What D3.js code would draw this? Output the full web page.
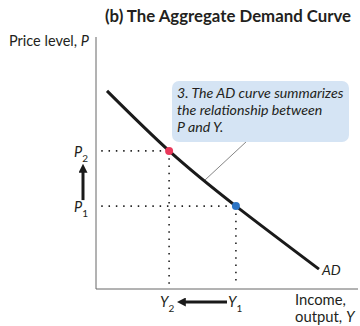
<!DOCTYPE html>
<html>
<head>
<meta charset="utf-8">
<script src="https://cdn.jsdelivr.net/npm/d3@7"></script>
<style>
  body { margin: 0; background: #fff; }
  text { font-family: Lato, "Open Sans", sans-serif; fill: #231f20; }
</style>
</head>
<body>
<div id="chart"></div>
<script>
// AD curve points (output, price level) in arbitrary units 0..100
const adOutput = [4.2, 27.9, 53.4, 85.1];
const adPrice = [78.6, 54.8, 32.9, 7.9];
// the two highlighted points
const pointNames = ["P2", "P1"];
const pointY = [27.9, 53.4];
const pointP = [54.8, 32.9];
const pointColors = ["#e8385a", "#2d74c4"];
const noteLines = ["3. The AD curve summarizes", "the relationship between", "P and Y."];

const width = 360, height = 326;
const svg = d3.select("#chart").append("svg")
  .attr("width", width).attr("height", height);

const x = d3.scaleLinear().domain([0, 100]).range([96, 358]);
const y = d3.scaleLinear().domain([0, 100]).range([289, 37]);

svg.append("defs").append("marker")
  .attr("id", "head")
  .attr("viewBox", "0 0 10 10")
  .attr("refX", 2).attr("refY", 5)
  .attr("markerWidth", 3).attr("markerHeight", 3)
  .attr("markerUnits", "strokeWidth")
  .attr("orient", "auto")
  .append("path").attr("d", "M0,0L10,5L0,10Z").attr("fill", "#1a1a1a");

// title
svg.append("text")
  .attr("x", 228).attr("y", 22)
  .attr("text-anchor", "middle")
  .attr("font-weight", "bold")
  .attr("font-size", 16.8)
  .text("(b) The Aggregate Demand Curve");

// axes (plain lines, no ticks)
svg.append("line")
  .attr("x1", x(0)).attr("x2", x(0))
  .attr("y1", y(100)).attr("y2", y(0))
  .attr("stroke", "#666").attr("stroke-width", 1);
svg.append("line")
  .attr("x1", x(0)).attr("x2", x(100))
  .attr("y1", y(0)).attr("y2", y(0))
  .attr("stroke", "#666").attr("stroke-width", 1);

svg.append("text")
  .attr("x", 9).attr("y", 46)
  .attr("font-size", 14.5)
  .html('Price level, <tspan font-style="italic">P</tspan>');

// x axis title, two lines
svg.append("text")
  .attr("x", 295).attr("y", 305)
  .attr("font-size", 14.8)
  .text("Income,");
svg.append("text")
  .attr("x", 295).attr("y", 322)
  .attr("font-size", 14.8)
  .html('output, <tspan font-style="italic">Y</tspan>');

// dotted guides
const dots = svg.append("g")
  .attr("stroke", "#222")
  .attr("stroke-width", 1.6)
  .attr("stroke-dasharray", "1.5 5.8")
  .attr("stroke-linecap", "butt");
pointP.forEach((p, i) => {
  dots.append("line")
    .attr("x1", x(2)).attr("x2", x(pointY[i]))
    .attr("y1", y(p)).attr("y2", y(p));
  dots.append("line")
    .attr("x1", x(pointY[i])).attr("x2", x(pointY[i]))
    .attr("y1", y(p)).attr("y2", y(1.2));
});

// callout
svg.append("line")
  .attr("x1", 247).attr("y1", 141)
  .attr("x2", 205).attr("y2", 180)
  .attr("stroke", "#777").attr("stroke-width", 0.9);
svg.append("rect")
  .attr("x", 172).attr("y", 81)
  .attr("width", 177).attr("height", 61)
  .attr("rx", 7)
  .attr("fill", "#d5e4f4");
svg.append("text")
  .attr("font-style", "italic")
  .attr("font-size", 14.2)
  .selectAll("tspan")
  .data(noteLines)
  .join("tspan")
  .attr("x", 177)
  .attr("y", (d, i) => 98 + i * 17)
  .text(d => d);

// AD curve
const line = d3.line()
  .x((d, i) => x(adOutput[i]))
  .y(d => y(d))
  .curve(d3.curveNatural);
svg.append("path")
  .attr("d", line(adPrice))
  .attr("fill", "none")
  .attr("stroke", "#1a1a1a")
  .attr("stroke-width", 3);

svg.append("text")
  .attr("x", 322).attr("y", 275)
  .attr("font-style", "italic")
  .attr("font-size", 14)
  .text("AD");

svg.selectAll(".pt")
  .data(pointNames)
  .join("circle")
  .attr("class", "pt")
  .attr("cx", (d, i) => x(pointY[i]))
  .attr("cy", (d, i) => y(pointP[i]))
  .attr("r", 4)
  .attr("fill", (d, i) => pointColors[i]);

// P labels
const sub = ["2", "1"];
pointP.forEach((p, i) => {
  const t = svg.append("text")
    .attr("x", 74).attr("y", y(p) + 6)
    .attr("font-size", 14.5);
  t.append("tspan").attr("font-style", "italic").text("P");
  t.append("tspan").attr("font-size", 10).attr("dy", 5).text(sub[i]);
});
// Y labels
[0, 1].forEach(i => {
  const t = svg.append("text")
    .attr("x", i === 0 ? 160 : 228).attr("y", 307)
    .attr("font-size", 14.5);
  t.append("tspan").attr("font-style", "italic").text("Y");
  t.append("tspan").attr("font-size", 10).attr("dy", 5).text(sub[i]);
});

// movement arrows
svg.append("line")
  .attr("x1", 83).attr("y1", y(pointP[1]) - 6)
  .attr("x2", 83).attr("y2", y(pointP[0]) + 20)
  .attr("stroke", "#1a1a1a").attr("stroke-width", 3)
  .attr("marker-end", "url(#head)");
svg.append("line")
  .attr("x1", 227).attr("y1", 302)
  .attr("x2", 184).attr("y2", 302)
  .attr("stroke", "#1a1a1a").attr("stroke-width", 3)
  .attr("marker-end", "url(#head)");
</script>
</body>
</html>
